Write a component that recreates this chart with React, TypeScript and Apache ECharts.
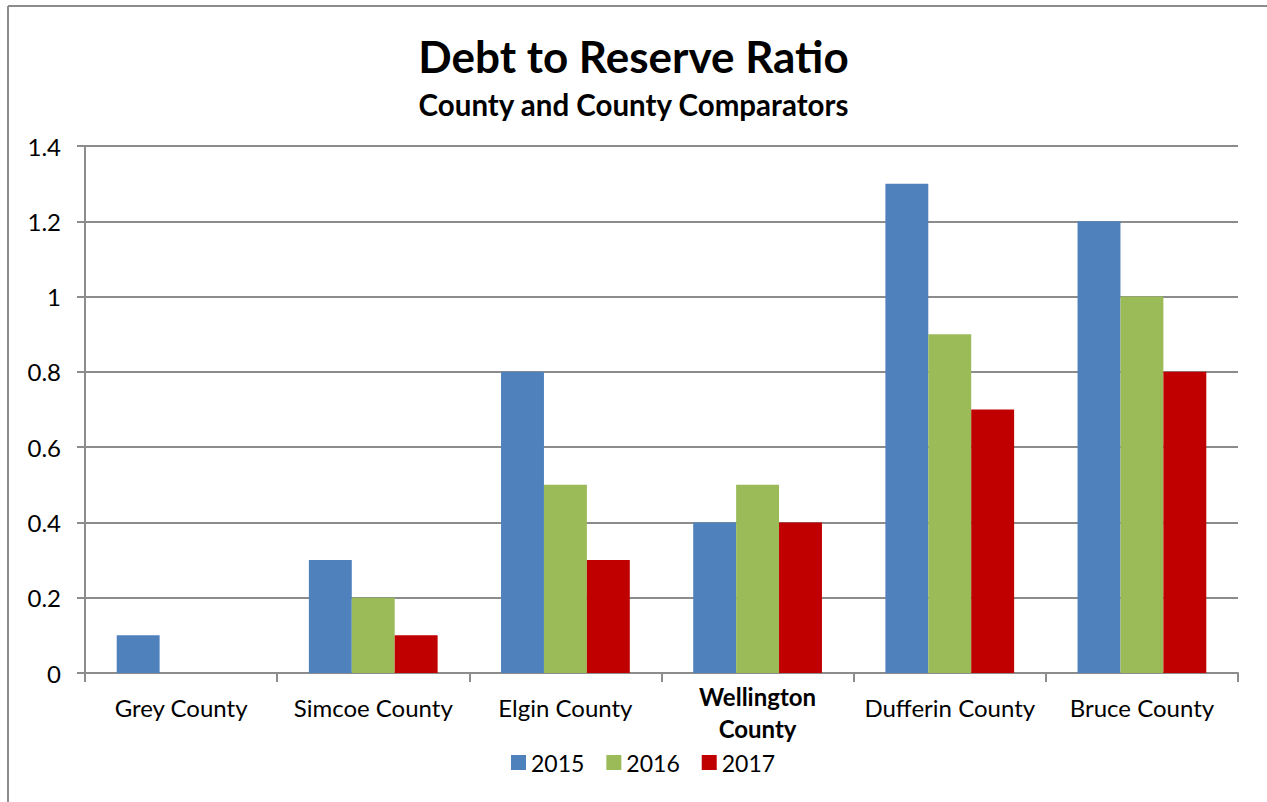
import React, { useEffect, useRef } from "react";
import * as echarts from "echarts";

const categories = ["Grey County", "Simcoe County", "Elgin County", "Wellington County", "Dufferin County", "Bruce County"];
const seriesNames = ["2015", "2016", "2017"];
const values2015 = [0.1, 0.3, 0.8, 0.4, 1.3, 1.2];
const values2016 = [0, 0.2, 0.5, 0.5, 0.9, 1.0];
const values2017 = [0, 0.1, 0.3, 0.4, 0.7, 0.8];
const colors = ["#4f81bd", "#9bbb59", "#c00000"];
const titleText = "Debt to Reserve Ratio";
const subtitleText = "County and County Comparators";

const FONT = "Lato, 'Open Sans', sans-serif";
const AXIS = "#8c8c8c";

export default function App() {
  const ref = useRef<HTMLDivElement>(null);
  useEffect(() => {
    if (!ref.current) return;
    const chart = echarts.init(ref.current, undefined, { renderer: "svg" });
    const data = [values2015, values2016, values2017];
    chart.setOption({
      animation: false,
      backgroundColor: "#ffffff",
      textStyle: { fontFamily: FONT },
      title: {
        text: titleText,
        subtext: subtitleText,
        left: "center",
        top: 29,
        itemGap: 11,
        textStyle: { fontFamily: FONT, fontSize: 44, fontWeight: "bold", color: "#000" },
        subtextStyle: { fontFamily: FONT, fontSize: 29.5, fontWeight: "bold", color: "#000" },
      },
      legend: {
        bottom: 23,
        left: 506,
        itemWidth: 15,
        itemHeight: 15,
        itemGap: 22,
        icon: "rect",
        textStyle: { fontFamily: FONT, fontSize: 23, color: "#000" },
        data: seriesNames,
      },
      grid: { left: 85, right: 29, top: 146, bottom: 129, containLabel: false },
      xAxis: {
        type: "category",
        data: categories.map((c) =>
          c === "Wellington County"
            ? { value: c, textStyle: { fontWeight: "bold", lineHeight: 32, padding: [-15, 0, 0, 0] } }
            : { value: c }
        ),
        axisLine: { lineStyle: { color: AXIS, width: 2 } },
        axisTick: { show: true, alignWithLabel: false, length: 9, lineStyle: { color: AXIS, width: 2 } },
        axisLabel: {
          fontFamily: FONT,
          fontSize: 24,
          color: "#000",
          margin: 22,
          interval: 0,
          formatter: (v: string) => (v === "Wellington County" ? "Wellington\nCounty" : v),
        },
      },
      yAxis: {
        type: "value",
        min: 0,
        max: 1.4,
        interval: 0.2,
        axisLine: { show: true, lineStyle: { color: AXIS, width: 2 } },
        axisTick: { show: true, length: 8, lineStyle: { color: AXIS, width: 2 } },
        splitLine: { show: true, lineStyle: { color: AXIS, width: 2 } },
        axisLabel: {
          fontFamily: FONT,
          fontSize: 24,
          color: "#000",
          margin: 24,
          formatter: (v: number) => String(Math.round(v * 10) / 10),
        },
      },
      series: seriesNames.map((name, i) => ({
        name,
        type: "bar",
        data: data[i],
        barGap: "0%",
        barCategoryGap: "33%",
        itemStyle: { color: colors[i] },
      })),
      graphic: [
        { type: "line", shape: { x1: 8, y1: 6, x2: 1267, y2: 6 }, style: { stroke: "#8c8c8c", lineWidth: 2 } },
        { type: "line", shape: { x1: 8, y1: 6, x2: 8, y2: 802 }, style: { stroke: "#8c8c8c", lineWidth: 2 } },
      ],
    });
    return () => chart.dispose();
  }, []);
  return (
    <div
      ref={ref}
      style={{ position: "absolute", left: 0, top: 0, width: 1267, height: 802 }}
    />
  );
}
